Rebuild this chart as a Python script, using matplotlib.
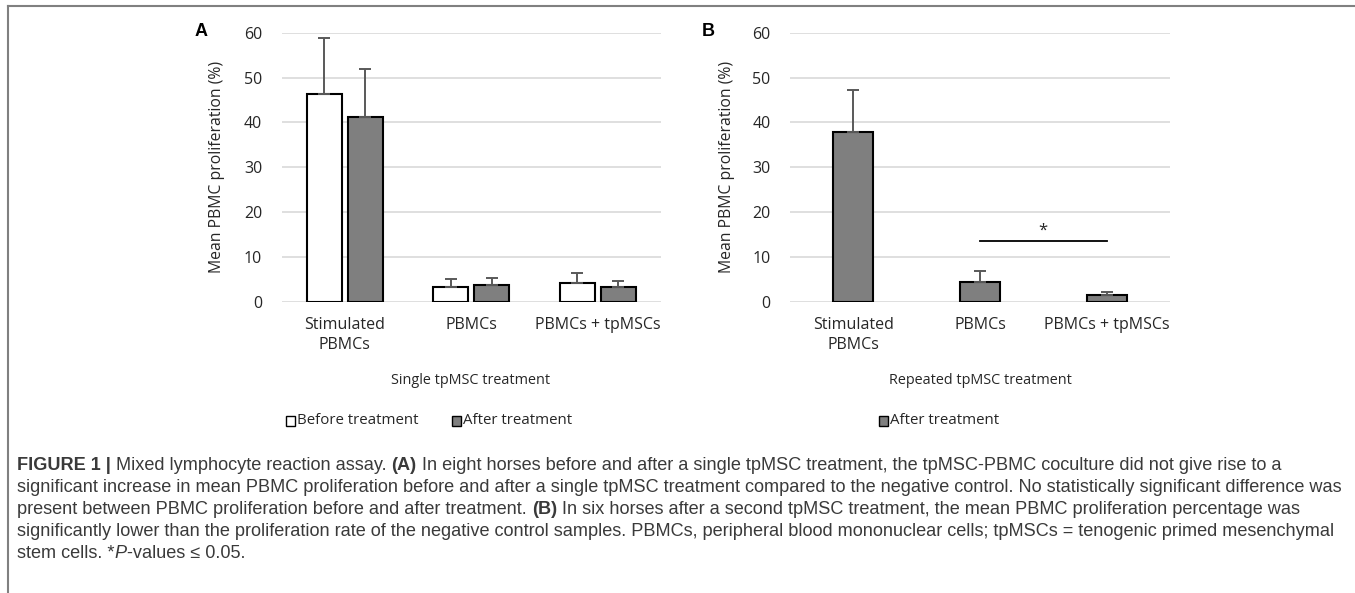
import numpy as np
import matplotlib.pyplot as plt
from matplotlib.patches import Rectangle
from matplotlib.lines import Line2D

W, H = 1355, 593

categories = ['Stimulated\nPBMCs', 'PBMCs', 'PBMCs + tpMSCs']
# panel A: single treatment
a_before = [46.3, 3.3, 4.25]
a_before_err = [12.45, 1.75, 2.15]
a_after = [41.3, 3.7, 3.2]
a_after_err = [10.5, 1.65, 1.5]
# panel B: repeated treatment
b_after = [37.9, 4.3, 1.55]
b_after_err = [9.4, 2.5, 0.65]
yticks = [0, 10, 20, 30, 40, 50, 60]

white = '#ffffff'
grey = '#7f7f7f'
errc = '#595959'
gridc = '#d9d9d9'
txt = '#262626'

plt.rcParams['font.family'] = ['Open Sans', 'DejaVu Sans']

fig = plt.figure(figsize=(W / 100, H / 100), dpi=100)


def fx(x):
    return x / W


def fy(y):
    return 1 - y / H


def make_axes(x0, x1, label_x):
    ax = fig.add_axes([fx(x0), fy(301.7), fx(x1 - x0), fy(32.7) - fy(301.7)])
    ax.set_xlim(-0.5, 2.5)
    ax.set_ylim(0, 60)
    ax.set_yticks(yticks)
    ax.grid(axis='y', color=gridc, lw=1.2, zorder=0)
    ax.set_axisbelow(True)
    for s in ax.spines.values():
        s.set_visible(False)
    ax.tick_params(length=0, labelsize=11.5, labelcolor=txt, pad=14)
    ax.tick_params(axis='x', pad=11)
    ax.set_xticks(range(3))
    ax.set_xticklabels(categories, linespacing=1.3)
    ax.set_ylabel('Mean PBMC proliferation (%)', fontsize=11.3, color=txt)
    # label anchor is its baseline side, so shift by about half the text height
    ax.yaxis.set_label_coords((label_x + 8 - x0) / (x1 - x0), 0.5)
    return ax


x = np.arange(3)
err_kw = dict(ecolor=errc, elinewidth=1.4, capsize=4.5, capthick=1.4)

axA = make_axes(281.7, 660.7, 216.7)
bw = 0.277
gap = 0.024
axA.bar(x - bw / 2 - gap, a_before, bw, color=white, edgecolor='black', lw=1.5,
        yerr=[np.zeros(3), a_before_err], error_kw=err_kw, zorder=3)
axA.bar(x + bw / 2 + gap, a_after, bw, color=grey, edgecolor='black', lw=1.5,
        yerr=[np.zeros(3), a_after_err], error_kw=err_kw, zorder=3)

axB = make_axes(790, 1170, 726.7)
axB.bar(x, b_after, 0.316, color=grey, edgecolor='black', lw=1.5,
        yerr=[np.zeros(3), b_after_err], error_kw=err_kw, zorder=3)
axB.plot([1, 2], [13.6, 13.6], color='black', lw=1.3, zorder=4)
axB.text(1.5, 14.0, '*', ha='center', va='bottom', fontsize=12, color=txt)

# panel letters
fig.text(fx(201), fy(32), 'A', fontsize=13, fontweight='bold', ha='center', va='center',
         family=['Liberation Sans', 'DejaVu Sans'])
fig.text(fx(708), fy(32), 'B', fontsize=13, fontweight='bold', ha='center', va='center',
         family=['Liberation Sans', 'DejaVu Sans'])

# group titles
fig.text(fx(471), fy(381), 'Single tpMSC treatment', fontsize=10.4, ha='center', va='center', color=txt)
fig.text(fx(980), fy(381), 'Repeated tpMSC treatment', fontsize=10.4, ha='center', va='center', color=txt)


# legends drawn by hand
def legend_item(x0, face, label):
    fig.patches.append(Rectangle((fx(x0), fy(426)), fx(9), fy(416) - fy(426), facecolor=face,
                                 edgecolor='black', lw=1.0, transform=fig.transFigure))
    fig.text(fx(x0 + 11), fy(421), label, fontsize=10.8, va='center', color=txt)


legend_item(286, white, 'Before treatment')
legend_item(452, grey, 'After treatment')
legend_item(879, grey, 'After treatment')

# frame lines top and left
fig.add_artist(Line2D([fx(8), 1], [fy(6), fy(6)], color='#808080', lw=1.5, transform=fig.transFigure))
fig.add_artist(Line2D([fx(8), fx(8)], [fy(6), 0], color='#808080', lw=1.5, transform=fig.transFigure))

# caption with mixed bold / italic pieces
cap_font = ['Liberation Sans', 'DejaVu Sans']
cap_col = '#3a3a3a'
lines = [
    [('FIGURE 1 |', 'bold', 'normal'), (' Mixed lymphocyte reaction assay. ', 'normal', 'normal'),
     ('(A)', 'bold', 'normal'),
     (' In eight horses before and after a single tpMSC treatment, the tpMSC-PBMC coculture did not give rise to a',
      'normal', 'normal')],
    [('significant increase in mean PBMC proliferation before and after a single tpMSC treatment compared to the '
      'negative control. No statistically significant difference was', 'normal', 'normal')],
    [('present between PBMC proliferation before and after treatment. ', 'normal', 'normal'),
     ('(B)', 'bold', 'normal'),
     (' In six horses after a second tpMSC treatment, the mean PBMC proliferation percentage was', 'normal', 'normal')],
    [('significantly lower than the proliferation rate of the negative control samples. PBMCs, peripheral blood '
      'mononuclear cells; tpMSCs = tenogenic primed mesenchymal', 'normal', 'normal')],
    [('stem cells. *', 'normal', 'normal'), ('P', 'normal', 'italic'), ('-values \u2264 0.05.', 'normal', 'normal')],
]
line_y = [465, 487, 510, 532, 554]

fig.canvas.draw()
renderer = fig.canvas.get_renderer()

# fit caption size so the second line spans the same width as in the figure
probe = fig.text(0, 0, lines[1][0][0], fontsize=10, family=cap_font)
cap_size = 10 * 1331 / probe.get_window_extent(renderer).width
probe.remove()

for pieces, ly in zip(lines, line_y):
    xpos = 17
    for s, wt, st in pieces:
        t = fig.text(fx(xpos), fy(ly), s, fontsize=cap_size, fontweight=wt, fontstyle=st,
                     family=cap_font, color=cap_col, va='center', ha='left')
        bb = t.get_window_extent(renderer)
        xpos += bb.width

fig.savefig('out.png', dpi=100)
